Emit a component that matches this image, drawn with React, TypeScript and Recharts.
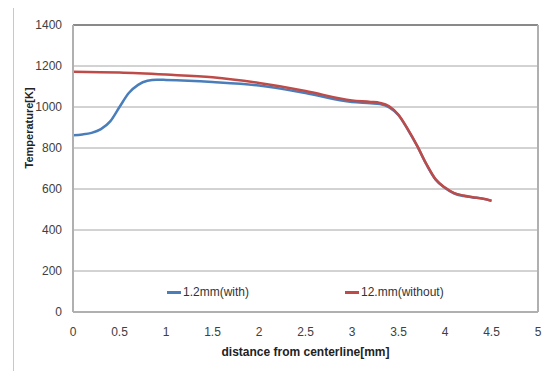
import React from 'react'
import { CartesianGrid, Line, LineChart, ReferenceLine, XAxis, YAxis } from 'recharts'

// values
const withX = [0, 0.1, 0.2, 0.3, 0.4, 0.5, 0.6, 0.7, 0.8, 0.9, 1.0, 1.5, 2.0, 2.5, 3.0, 3.2, 3.3, 3.4, 3.5, 3.6, 3.7, 3.8, 3.9, 4.0, 4.1, 4.2, 4.3, 4.4, 4.5]
const withT = [862, 866, 874, 892, 930, 1000, 1068, 1108, 1128, 1133, 1132, 1122, 1105, 1068, 1024, 1018, 1014, 998, 960, 890, 810, 720, 645, 605, 578, 566, 559, 553, 542]
const withoutX = [0, 0.5, 1.0, 1.5, 2.0, 2.5, 3.0, 3.2, 3.3, 3.4, 3.5, 3.6, 3.7, 3.8, 3.9, 4.0, 4.1, 4.2, 4.3, 4.4, 4.5]
const withoutT = [1172, 1168, 1158, 1145, 1117, 1078, 1032, 1025, 1020, 1004, 962, 892, 812, 722, 647, 607, 580, 568, 560, 554, 543]

const xTicks = [0, 0.5, 1, 1.5, 2, 2.5, 3, 3.5, 4, 4.5, 5]
const yTicks = [0, 200, 400, 600, 800, 1000, 1200, 1400]

const seriesA = withX.map((x, i) => ({ x, t: withT[i] }))
const seriesB = withoutX.map((x, i) => ({ x, t: withoutT[i] }))

const BLUE = '#4a7ebb'
const RED = '#be4b48'
const FONT = '"Liberation Sans Narrow", "Liberation Sans", Arial, sans-serif'

function LegendItem({ color, label, left }: { color: string; label: string; left: number }) {
  return (
    <div style={{ position: 'absolute', left, top: 285, display: 'flex', alignItems: 'center', whiteSpace: 'nowrap', fontFamily: FONT }}>
      <span style={{ display: 'inline-block', width: 14, height: 3, background: color, marginRight: 2 }} />
      <span style={{ fontSize: 12, color: '#333' }}>{label}</span>
    </div>
  )
}

export default function App() {
  return (
    <div style={{ position: 'absolute', left: 0, top: 0, width: 543, height: 371, background: '#fff' }}>
      <div style={{ position: 'absolute', left: 13, top: 8, width: 1, height: 363, background: '#c8c8c8' }} />
      <LineChart
        width={543}
        height={371}
        margin={{ top: 25, right: 5, bottom: 29, left: 13 }}
        style={{ fontFamily: FONT }}
      >
        <CartesianGrid vertical={false} stroke="#a6a6a6" />
        <XAxis
          type="number"
          dataKey="x"
          domain={[0, 5]}
          ticks={xTicks}
          tickLine={false}
          axisLine={{ stroke: '#b0b0b0', strokeWidth: 2 }}
          tick={{ fontSize: 12, fill: '#404040' }}
          tickMargin={9}
          label={{ value: 'distance from centerline[mm]', position: 'insideBottom', offset: -14, fontSize: 12, fontWeight: 'bold', fill: '#222' }}
        />
        <YAxis
          type="number"
          domain={[0, 1400]}
          ticks={yTicks}
          width={60}
          tickLine={false}
          axisLine={{ stroke: '#b0b0b0', strokeWidth: 2 }}
          tick={{ fontSize: 12, fill: '#404040' }}
          tickMargin={5}
          label={{ value: 'Temperature[K]', angle: -90, position: 'insideLeft', offset: 16, fontSize: 11, fontWeight: 'bold', fill: '#222' }}
        />
        <ReferenceLine y={1400} stroke="#404040" />
        <ReferenceLine x={5} stroke="#b0b0b0" strokeWidth={2} />
        <Line data={seriesA} dataKey="t" name="1.2mm(with)" type="monotone" stroke={BLUE} strokeWidth={2.5} dot={false} isAnimationActive={false} />
        <Line data={seriesB} dataKey="t" name="12.mm(without)" type="monotone" stroke={RED} strokeWidth={2.5} dot={false} isAnimationActive={false} />
      </LineChart>
      <LegendItem color={BLUE} label="1.2mm(with)" left={167} />
      <LegendItem color={RED} label="12.mm(without)" left={345} />
    </div>
  )
}
